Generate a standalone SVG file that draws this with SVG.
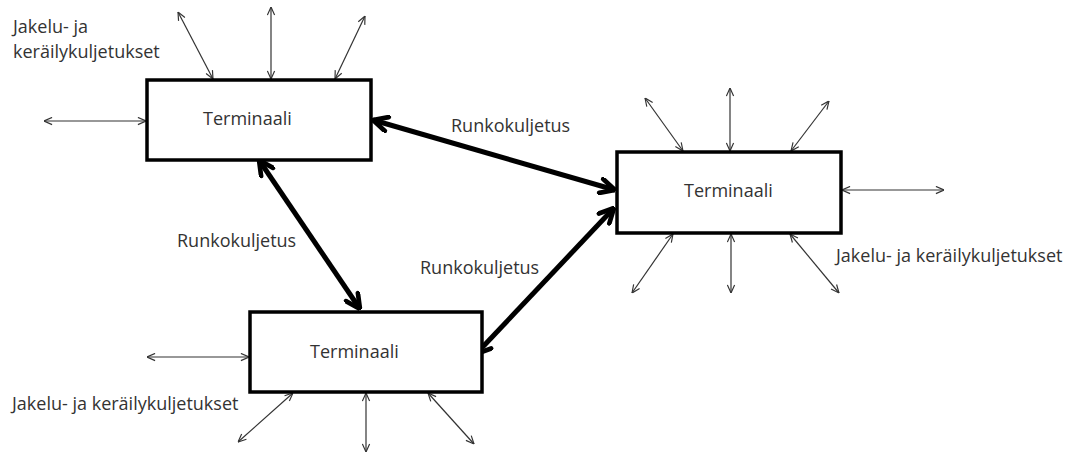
<svg xmlns="http://www.w3.org/2000/svg" width="1075" height="454" viewBox="0 0 1075 454">
<style>
.box{fill:#fff;stroke:#000;stroke-width:3.5}
.lbl{font-family:"Open Sans","Noto Sans",sans-serif;font-size:18px;fill:#333}
.thin{stroke:#333;stroke-width:1.2;fill:none;marker-start:url(#ta);marker-end:url(#ta)}
.thick{stroke:#000;stroke-width:5;fill:none;marker-start:url(#TA);marker-end:url(#TA)}
</style>
<defs>
<marker id="ta" viewBox="0 0 10 10" markerWidth="9" markerHeight="9" markerUnits="userSpaceOnUse" refX="10" refY="5" orient="auto-start-reverse">
<path d="M1,1 L10,5 L1,9" fill="none" stroke="#333" stroke-width="1.3"/>
</marker>
<marker id="TA" viewBox="0 0 10 10" markerWidth="18" markerHeight="18" markerUnits="userSpaceOnUse" refX="9.5" refY="5" orient="auto-start-reverse">
<path d="M1.5,1 L9.5,5 L1.5,9" fill="none" stroke="#000" stroke-width="2.6" stroke-linecap="round" stroke-linejoin="round"/>
</marker>
</defs>
<rect width="1075" height="454" fill="#fff"/>
<g id="connectors">
<line class="thick" x1="373" y1="120" x2="615" y2="190"/>
<line class="thick" x1="259" y1="160" x2="360" y2="309"/>
<line class="thick" x1="614" y1="208" x2="476" y2="354"/>
<line class="thin" x1="44" y1="121" x2="146" y2="121"/>
<line class="thin" x1="178" y1="12" x2="213" y2="79"/>
<line class="thin" x1="271" y1="7" x2="271" y2="79"/>
<line class="thin" x1="365" y1="16" x2="335" y2="79"/>
<line class="thin" x1="645" y1="98" x2="683" y2="151"/>
<line class="thin" x1="730" y1="88" x2="730" y2="151"/>
<line class="thin" x1="829" y1="101" x2="791" y2="151"/>
<line class="thin" x1="842" y1="190" x2="944" y2="190"/>
<line class="thin" x1="673" y1="234" x2="632" y2="293"/>
<line class="thin" x1="731" y1="234" x2="731" y2="293"/>
<line class="thin" x1="790" y1="234" x2="839" y2="293"/>
<line class="thin" x1="147" y1="357" x2="249" y2="357"/>
<line class="thin" x1="293" y1="393" x2="238" y2="442"/>
<line class="thin" x1="366" y1="393" x2="366" y2="452"/>
<line class="thin" x1="428" y1="393" x2="474" y2="444"/>
</g>
<g id="terminal1">
<rect class="box" x="147" y="80" width="224" height="80"/>
<text class="lbl" x="203" y="125">Terminaali</text>
</g>
<g id="terminal2">
<rect class="box" x="617" y="152" width="224" height="81"/>
<text class="lbl" x="684" y="197">Terminaali</text>
</g>
<g id="terminal3">
<rect class="box" x="250" y="312" width="232" height="80"/>
<text class="lbl" x="310" y="358">Terminaali</text>
</g>
<g id="labels">
<text class="lbl" x="451" y="132">Runkokuljetus</text>
<text class="lbl" x="177" y="247">Runkokuljetus</text>
<text class="lbl" x="420" y="274">Runkokuljetus</text>
<text class="lbl" x="13" y="33">Jakelu- ja</text>
<text class="lbl" x="13" y="58">keräilykuljetukset</text>
<text class="lbl" x="836" y="262">Jakelu- ja keräilykuljetukset</text>
<text class="lbl" x="12" y="410">Jakelu- ja keräilykuljetukset</text>
</g>
</svg>
